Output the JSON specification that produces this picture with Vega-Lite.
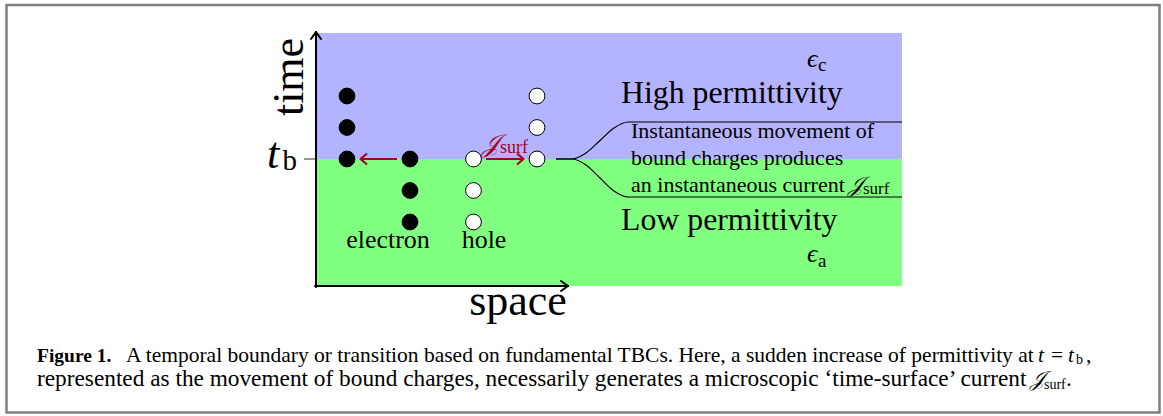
{
  "$schema": "https://vega.github.io/schema/vega-lite/v6.json",
  "width": 1163,
  "height": 416,
  "padding": 0,
  "autosize": {"type": "none"},
  "background": "white",
  "config": {"view": {"stroke": null}, "text": {"font": "Liberation Serif"}},
  "datasets": {
    "frame": [{"x": 6.5, "x2": 1159.5, "y": 5, "y2": 412.5}],
    "regions": [
      {"region": "High permittivity", "x": 316, "x2": 902, "y": 33, "y2": 159},
      {"region": "Low permittivity", "x": 316, "x2": 902, "y": 159, "y2": 286}
    ],
    "axes": [
      {"g": "time axis", "o": 0, "x": 316, "y": 287},
      {"g": "time axis", "o": 1, "x": 316, "y": 32},
      {"g": "space axis", "o": 0, "x": 315, "y": 286},
      {"g": "space axis", "o": 1, "x": 568, "y": 286},
      {"g": "time head", "o": 0, "x": 311, "y": 39},
      {"g": "time head", "o": 1, "x": 316, "y": 32},
      {"g": "time head", "o": 2, "x": 321, "y": 39},
      {"g": "space head", "o": 0, "x": 561, "y": 281},
      {"g": "space head", "o": 1, "x": 568, "y": 286},
      {"g": "space head", "o": 2, "x": 561, "y": 291}
    ],
    "tick": [
      {"g": "tb", "o": 0, "x": 304, "y": 159},
      {"g": "tb", "o": 1, "x": 316, "y": 159}
    ],
    "brace": [
      {"g": "upper", "o": 0, "x": 556, "y": 159},
      {"g": "upper", "o": 1, "x": 572, "y": 159},
      {"g": "upper", "o": 2, "x": 586, "y": 153},
      {"g": "upper", "o": 3, "x": 600, "y": 140.5},
      {"g": "upper", "o": 4, "x": 614, "y": 128},
      {"g": "upper", "o": 5, "x": 628, "y": 122},
      {"g": "upper", "o": 6, "x": 902, "y": 122},
      {"g": "lower", "o": 0, "x": 556, "y": 159},
      {"g": "lower", "o": 1, "x": 572, "y": 159},
      {"g": "lower", "o": 2, "x": 586, "y": 165},
      {"g": "lower", "o": 3, "x": 600, "y": 178},
      {"g": "lower", "o": 4, "x": 614, "y": 191},
      {"g": "lower", "o": 5, "x": 628, "y": 197},
      {"g": "lower", "o": 6, "x": 902, "y": 197}
    ],
    "currents": [
      {"g": "electron shaft", "o": 0, "x": 397, "y": 159},
      {"g": "electron shaft", "o": 1, "x": 361, "y": 159},
      {"g": "electron head", "o": 0, "x": 367, "y": 153.5},
      {"g": "electron head", "o": 1, "x": 360.5, "y": 159},
      {"g": "electron head", "o": 2, "x": 367, "y": 164.5},
      {"g": "hole shaft", "o": 0, "x": 486, "y": 159},
      {"g": "hole shaft", "o": 1, "x": 523, "y": 159},
      {"g": "hole head", "o": 0, "x": 517, "y": 153.5},
      {"g": "hole head", "o": 1, "x": 523.5, "y": 159},
      {"g": "hole head", "o": 2, "x": 517, "y": 164.5}
    ],
    "charges": [
      {"type": "electron", "x": 347, "y": 96},
      {"type": "electron", "x": 347, "y": 127.5},
      {"type": "electron", "x": 347, "y": 159},
      {"type": "electron", "x": 410, "y": 159},
      {"type": "electron", "x": 410, "y": 190.5},
      {"type": "electron", "x": 410, "y": 222},
      {"type": "hole", "x": 473.5, "y": 159},
      {"type": "hole", "x": 473.5, "y": 190.5},
      {"type": "hole", "x": 473.5, "y": 222},
      {"type": "hole", "x": 537, "y": 96},
      {"type": "hole", "x": 537, "y": 127.5},
      {"type": "hole", "x": 537, "y": 159}
    ],
    "labels": [
      {"role": "time", "text": "time", "x": 303, "y": 77},
      {"role": "space", "text": "space", "x": 518, "y": 315},
      {"role": "tvar", "text": "t", "x": 267, "y": 168},
      {"role": "tsub", "text": "b", "x": 282.5, "y": 170},
      {"role": "particle", "text": "electron", "x": 388, "y": 248},
      {"role": "particle", "text": "hole", "x": 484, "y": 248},
      {"role": "jred", "text": "𝒥", "x": 482, "y": 152},
      {"role": "subred", "text": "surf", "x": 500, "y": 153},
      {"role": "eps", "text": "ϵ", "x": 807, "y": 67},
      {"role": "epssub", "text": "c", "x": 818, "y": 71},
      {"role": "eps", "text": "ϵ", "x": 807, "y": 262},
      {"role": "epssub", "text": "a", "x": 818, "y": 267},
      {"role": "region", "text": "High permittivity", "x": 621, "y": 103},
      {"role": "region", "text": "Low permittivity", "x": 621, "y": 230},
      {"role": "note", "text": "Instantaneous movement of", "x": 631, "y": 138},
      {"role": "note", "text": "bound charges produces", "x": 631, "y": 165},
      {"role": "note", "text": "an instantaneous current", "x": 631, "y": 191.5},
      {"role": "notej", "text": "𝒥", "x": 848, "y": 191.5},
      {"role": "notesub", "text": "surf", "x": 863, "y": 194},
      {"role": "capbold", "text": "Figure 1.", "x": 37, "y": 361.5},
      {"role": "cap1", "text": "A temporal boundary or transition based on fundamental TBCs. Here, a sudden increase of permittivity at", "x": 126, "y": 361.5},
      {"role": "capit", "text": "t", "x": 1038, "y": 361.5},
      {"role": "cap1", "text": "=", "x": 1051, "y": 361.5},
      {"role": "capit", "text": "t", "x": 1068, "y": 361.5},
      {"role": "capsub", "text": "b", "x": 1076, "y": 364},
      {"role": "cap1", "text": ",", "x": 1086, "y": 361.5},
      {"role": "cap2", "text": "represented as the movement of bound charges, necessarily generates a microscopic ‘time-surface’ current", "x": 37, "y": 386},
      {"role": "capj", "text": "𝒥", "x": 1030, "y": 386},
      {"role": "capsub", "text": "surf", "x": 1044, "y": 388.5},
      {"role": "cap2", "text": ".", "x": 1066, "y": 386}
    ]
  },
  "encoding": {
    "x": {"field": "x", "type": "quantitative", "scale": {"domain": [0, 1163], "nice": false, "zero": false}, "axis": null},
    "y": {"field": "y", "type": "quantitative", "scale": {"domain": [0, 416], "reverse": true, "nice": false, "zero": false}, "axis": null}
  },
  "layer": [
    {
      "data": {"name": "frame"},
      "mark": {"type": "rect", "fill": "transparent", "stroke": "#808080", "strokeWidth": 2.5},
      "encoding": {"x2": {"field": "x2"}, "y2": {"field": "y2"}}
    },
    {
      "data": {"name": "regions"},
      "mark": {"type": "rect"},
      "encoding": {
        "x2": {"field": "x2"},
        "y2": {"field": "y2"},
        "color": {"field": "region", "type": "nominal", "scale": {"domain": ["High permittivity", "Low permittivity"], "range": ["#b3b3ff", "#80ff80"]}, "legend": null}
      }
    },
    {
      "data": {"name": "tick"},
      "mark": {"type": "line", "color": "#333333", "strokeWidth": 1},
      "encoding": {"detail": {"field": "g"}, "order": {"field": "o"}}
    },
    {
      "data": {"name": "axes"},
      "mark": {"type": "line", "color": "black", "strokeWidth": 2, "strokeCap": "round", "strokeJoin": "round"},
      "encoding": {"detail": {"field": "g"}, "order": {"field": "o"}}
    },
    {
      "data": {"name": "brace"},
      "mark": {"type": "line", "color": "black", "strokeWidth": 1.2, "interpolate": "monotone"},
      "encoding": {"detail": {"field": "g"}, "order": {"field": "o"}}
    },
    {
      "data": {"name": "currents"},
      "mark": {"type": "line", "color": "#a8001e", "strokeWidth": 2.2, "strokeJoin": "round"},
      "encoding": {"detail": {"field": "g"}, "order": {"field": "o"}}
    },
    {
      "data": {"name": "charges"},
      "mark": {"type": "point", "shape": "circle", "filled": true, "size": 250, "stroke": "black", "strokeWidth": 1, "opacity": 1},
      "encoding": {
        "fill": {"field": "type", "type": "nominal", "scale": {"domain": ["electron", "hole"], "range": ["black", "white"]}, "legend": null}
      }
    },
    {
      "data": {"name": "labels"},
      "transform": [{"filter": "datum.role == 'time'"}],
      "mark": {"type": "text", "fontSize": 44, "angle": 270, "align": "center", "baseline": "alphabetic", "color": "black"},
      "encoding": {"text": {"field": "text"}}
    },
    {
      "data": {"name": "labels"},
      "transform": [{"filter": "datum.role == 'space'"}],
      "mark": {"type": "text", "fontSize": 44, "align": "center", "baseline": "alphabetic", "color": "black"},
      "encoding": {"text": {"field": "text"}}
    },
    {
      "data": {"name": "labels"},
      "transform": [{"filter": "datum.role == 'tvar'"}],
      "mark": {"type": "text", "fontSize": 44, "fontStyle": "italic", "align": "left", "baseline": "alphabetic", "color": "black"},
      "encoding": {"text": {"field": "text"}}
    },
    {
      "data": {"name": "labels"},
      "transform": [{"filter": "datum.role == 'tsub'"}],
      "mark": {"type": "text", "fontSize": 29, "align": "left", "baseline": "alphabetic", "color": "black"},
      "encoding": {"text": {"field": "text"}}
    },
    {
      "data": {"name": "labels"},
      "transform": [{"filter": "datum.role == 'particle'"}],
      "mark": {"type": "text", "fontSize": 26, "align": "center", "baseline": "alphabetic", "color": "black"},
      "encoding": {"text": {"field": "text"}}
    },
    {
      "data": {"name": "labels"},
      "transform": [{"filter": "datum.role == 'jred'"}],
      "mark": {"type": "text", "fontSize": 25, "font": "DejaVu Serif", "fontStyle": "italic", "align": "left", "baseline": "alphabetic", "color": "#a8001e"},
      "encoding": {"text": {"field": "text"}}
    },
    {
      "data": {"name": "labels"},
      "transform": [{"filter": "datum.role == 'subred'"}],
      "mark": {"type": "text", "fontSize": 18, "align": "left", "baseline": "alphabetic", "color": "#a8001e"},
      "encoding": {"text": {"field": "text"}}
    },
    {
      "data": {"name": "labels"},
      "transform": [{"filter": "datum.role == 'eps'"}],
      "mark": {"type": "text", "fontSize": 26, "fontStyle": "italic", "align": "left", "baseline": "alphabetic", "color": "black"},
      "encoding": {"text": {"field": "text"}}
    },
    {
      "data": {"name": "labels"},
      "transform": [{"filter": "datum.role == 'epssub'"}],
      "mark": {"type": "text", "fontSize": 19, "align": "left", "baseline": "alphabetic", "color": "black"},
      "encoding": {"text": {"field": "text"}}
    },
    {
      "data": {"name": "labels"},
      "transform": [{"filter": "datum.role == 'region'"}],
      "mark": {"type": "text", "fontSize": 31.8, "align": "left", "baseline": "alphabetic", "color": "black"},
      "encoding": {"text": {"field": "text"}}
    },
    {
      "data": {"name": "labels"},
      "transform": [{"filter": "datum.role == 'note'"}],
      "mark": {"type": "text", "fontSize": 22, "align": "left", "baseline": "alphabetic", "color": "black"},
      "encoding": {"text": {"field": "text"}}
    },
    {
      "data": {"name": "labels"},
      "transform": [{"filter": "datum.role == 'notej'"}],
      "mark": {"type": "text", "fontSize": 22, "font": "DejaVu Serif", "fontStyle": "italic", "align": "left", "baseline": "alphabetic", "color": "black"},
      "encoding": {"text": {"field": "text"}}
    },
    {
      "data": {"name": "labels"},
      "transform": [{"filter": "datum.role == 'notesub'"}],
      "mark": {"type": "text", "fontSize": 17, "align": "left", "baseline": "alphabetic", "color": "black"},
      "encoding": {"text": {"field": "text"}}
    },
    {
      "data": {"name": "labels"},
      "transform": [{"filter": "datum.role == 'capbold'"}],
      "mark": {"type": "text", "fontSize": 19.5, "fontWeight": "bold", "align": "left", "baseline": "alphabetic", "color": "black"},
      "encoding": {"text": {"field": "text"}}
    },
    {
      "data": {"name": "labels"},
      "transform": [{"filter": "datum.role == 'cap1'"}],
      "mark": {"type": "text", "fontSize": 21.5, "align": "left", "baseline": "alphabetic", "color": "black"},
      "encoding": {"text": {"field": "text"}}
    },
    {
      "data": {"name": "labels"},
      "transform": [{"filter": "datum.role == 'cap2'"}],
      "mark": {"type": "text", "fontSize": 23.3, "align": "left", "baseline": "alphabetic", "color": "black"},
      "encoding": {"text": {"field": "text"}}
    },
    {
      "data": {"name": "labels"},
      "transform": [{"filter": "datum.role == 'capit'"}],
      "mark": {"type": "text", "fontSize": 21.5, "fontStyle": "italic", "align": "left", "baseline": "alphabetic", "color": "black"},
      "encoding": {"text": {"field": "text"}}
    },
    {
      "data": {"name": "labels"},
      "transform": [{"filter": "datum.role == 'capsub'"}],
      "mark": {"type": "text", "fontSize": 14, "align": "left", "baseline": "alphabetic", "color": "black"},
      "encoding": {"text": {"field": "text"}}
    },
    {
      "data": {"name": "labels"},
      "transform": [{"filter": "datum.role == 'capj'"}],
      "mark": {"type": "text", "fontSize": 21, "font": "DejaVu Serif", "fontStyle": "italic", "align": "left", "baseline": "alphabetic", "color": "black"},
      "encoding": {"text": {"field": "text"}}
    }
  ]
}
